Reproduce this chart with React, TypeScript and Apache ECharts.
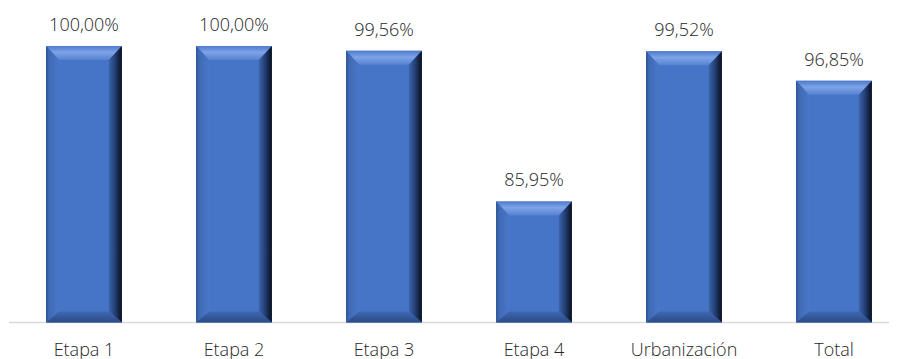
import React, { useEffect, useRef } from "react";
import * as echarts from "echarts";

const categories = ["Etapa 1", "Etapa 2", "Etapa 3", "Etapa 4", "Urbanización", "Total"];
const values = [100.0, 100.0, 99.56, 85.95, 99.52, 96.85];
const axisMin = 75;
const axisMax = 100;

const fmt = (v: number) => v.toFixed(2).replace(".", ",") + "%";

export default function App() {
  const ref = useRef<HTMLDivElement>(null);
  useEffect(() => {
    document.body.style.margin = "0";
    const chart = echarts.init(ref.current!, null, { renderer: "svg" });
    const LG = echarts.graphic.LinearGradient;
    const renderItem = (params: any, api: any) => {
      const x = api.value(0);
      const v = api.value(1);
      const top = api.coord([x, v]);
      const base = api.coord([x, axisMin]);
      const band = api.size([1, 0])[0];
      const w = band * 0.505;
      const l = top[0] - w / 2;
      const r = top[0] + w / 2;
      const t = top[1];
      const b = base[1];
      const bt = 14; // top bevel
      const bs = 13; // side bevel
      const bb = 11; // bottom bevel
      return {
        type: "group",
        children: [
          {
            type: "rect",
            shape: { x: l, y: t, width: r - l, height: b - t },
            style: { fill: "#4674c6" },
          },
          {
            type: "polygon",
            shape: { points: [[l, t], [r, t], [r - bs, t + bt], [l + bs, t + bt]] },
            style: {
              fill: new LG(0, 0, 0, 1, [
                { offset: 0, color: "#4e7bcb" },
                { offset: 0.45, color: "#7ea3e8" },
                { offset: 1, color: "#5682d0" },
              ]),
            },
          },
          {
            type: "polygon",
            shape: { points: [[l, t], [l + bs, t + bt], [l + bs, b - bb], [l, b]] },
            style: {
              fill: new LG(0, 0, 1, 0, [
                { offset: 0, color: "#2c4f8e" },
                { offset: 0.2, color: "#3f69b4" },
                { offset: 1, color: "#4a77c8" },
              ]),
            },
          },
          {
            type: "polygon",
            shape: { points: [[r, t], [r, b], [r - bs, b - bb], [r - bs, t + bt]] },
            style: {
              fill: new LG(0, 0, 1, 0, [
                { offset: 0, color: "#3c64ad" },
                { offset: 0.5, color: "#223d70" },
                { offset: 0.85, color: "#101c35" },
                { offset: 1, color: "#0a1122" },
              ]),
            },
          },
          {
            type: "polygon",
            shape: { points: [[l, b], [l + bs, b - bb], [r - bs, b - bb], [r, b]] },
            style: {
              fill: new LG(0, 0, 0, 1, [
                { offset: 0, color: "#3f67b0" },
                { offset: 1, color: "#2a4a85" },
              ]),
            },
          },
          {
            type: "text",
            x: top[0],
            y: t - 22,
            style: {
              text: fmt(v),
              fill: "#262626",
              font: "300 18px 'Open Sans', 'Noto Sans', sans-serif",
              align: "center",
              verticalAlign: "middle",
            },
          },
        ],
      };
    };
    chart.setOption({
      animation: false,
      grid: { left: 9, right: 0, top: 46, bottom: 36.5 },
      xAxis: {
        type: "category",
        data: categories,
        axisLine: { show: false },
        axisTick: { show: false },
        axisLabel: {
          margin: 17,
          color: "#262626",
          fontSize: 18,
          lineHeight: 18,
          fontWeight: 300,
          fontFamily: "'Open Sans', 'Noto Sans', sans-serif",
        },
      },
      yAxis: { type: "value", min: axisMin, max: axisMax, show: false, splitLine: { show: false } },
      graphic: [
        {
          type: "line",
          shape: { x1: 9, y1: 322.5, x2: 889, y2: 322.5 },
          style: { stroke: "#d9d9d9", lineWidth: 1.5 },
          z: 0,
        },
      ],
      series: [
        {
          type: "custom",
          renderItem,
          clip: false,
          data: values.map((v, i) => [i, v]),
          z: 2,
        },
      ],
    });
    return () => chart.dispose();
  }, []);
  return (
    <div style={{ width: 899, height: 359, overflow: "hidden", position: "relative" }}>
      <div ref={ref} style={{ width: 909, height: 359 }} />
    </div>
  );
}
